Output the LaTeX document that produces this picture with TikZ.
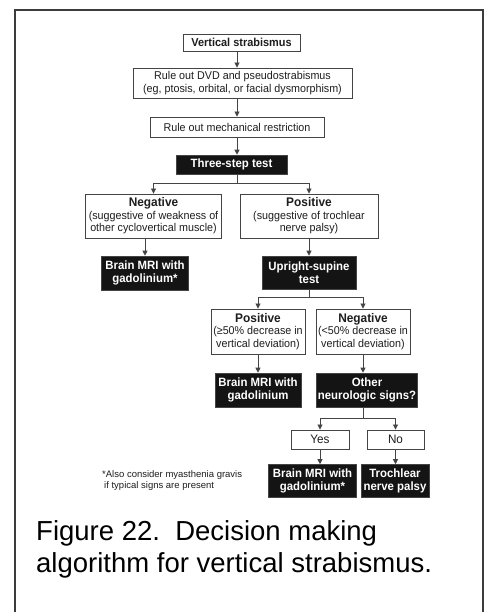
\documentclass[tikz,border=0pt]{standalone}
\usepackage{fontspec}
\setmainfont{Liberation Sans}
\newfontfamily\nsans[FakeStretch=0.95]{Liberation Sans}
\usetikzlibrary{arrows.meta}
\definecolor{lncol}{HTML}{444444}
\definecolor{txcol}{HTML}{1E1E1E}
\definecolor{framecol}{HTML}{3C3C3C}
\tikzset{
  wbox/.style={draw=lncol, line width=0.9pt, fill=white, text=txcol, align=center, inner sep=0pt,
    font=\nsans\fontsize{11.3}{12.6}\selectfont},
  bbox/.style={draw=lncol, line width=0.6pt, fill=black!92, text=white, align=center, inner sep=0pt,
    font=\nsans\bfseries\fontsize{12}{13}\selectfont},
  arr/.style={draw=lncol, line width=0.85pt, -{Triangle[length=5pt,width=5pt]}},
  conn/.style={draw=lncol, line width=0.85pt},
}
\newcommand{\hdtxt}[1]{{\bfseries\fontsize{12.5}{13}\selectfont #1}}
\begin{document}
\begin{tikzpicture}[x=1pt,y=-1pt]
\useasboundingbox (0,0) rectangle (486,612);
\fill[white] (0,0) rectangle (486,612);
% frame
\draw[framecol, line width=1.4pt] (15,616) -- (15,10) -- (483,10) -- (483,616);

% nodes
\node[wbox, minimum width=117pt, minimum height=17pt, font=\nsans\bfseries\fontsize{11.5}{12.6}\selectfont] (vs) at (241.5,42.5) {Vertical strabismus};
\node[wbox, minimum width=219pt, minimum height=30pt] (dvd) at (242.5,83) {Rule out DVD and pseudostrabismus\\(eg, ptosis, orbital, or facial dysmorphism)};
\node[wbox, minimum width=174pt, minimum height=20pt] (mech) at (237,127) {Rule out mechanical restriction};
\node[bbox, minimum width=111pt, minimum height=19pt] (three) at (231.5,164.5) {Three-step test};

\node[wbox, minimum width=136pt, minimum height=44pt] (neg) at (153.5,216) {\hdtxt{Negative}\\(suggestive of weakness of\\other cyclovertical muscle)};
\node[wbox, minimum width=138pt, minimum height=44pt] (pos) at (309,216) {\hdtxt{Positive}\\(suggestive of trochlear\\nerve palsy)};

\node[bbox, minimum width=87pt, minimum height=34pt] (mri1) at (145,273) {Brain MRI with\\gadolinium*};
\node[bbox, minimum width=94pt, minimum height=33pt] (up) at (309,272.5) {Upright-supine\\test};

\node[wbox, minimum width=94pt, minimum height=45pt] (pos2) at (258,331.5) {\hdtxt{Positive}\\(≥50\% decrease in\\vertical deviation)};
\node[wbox, minimum width=94pt, minimum height=45pt] (neg2) at (363,331.5) {\hdtxt{Negative}\\(<50\% decrease in\\vertical deviation)};

\node[bbox, minimum width=86pt, minimum height=34pt] (mri2) at (258,390) {Brain MRI with\\gadolinium};
\node[bbox, minimum width=101pt, minimum height=34pt] (other) at (367,390) {Other\\neurologic signs?};

\node[wbox, minimum width=58pt, minimum height=19pt, font=\nsans\fontsize{12.3}{13}\selectfont] (yes) at (320,439.5) {Yes};
\node[wbox, minimum width=57pt, minimum height=19pt, font=\nsans\fontsize{12.3}{13}\selectfont] (no) at (395.5,439.5) {No};

\node[bbox, minimum width=88pt, minimum height=33pt] (mri3) at (312.5,481) {Brain MRI with\\gadolinium*};
\node[bbox, minimum width=68pt, minimum height=33pt] (troch) at (395,481) {Trochlear\\nerve palsy};

\node[anchor=north west, align=left, inner sep=0pt, text=txcol, font=\fontsize{9.5}{11}\selectfont] (fn) at (102,470) {*Also consider myasthenia gravis\\\hspace*{2pt}if typical signs are present};

\node[anchor=base west, inner sep=0pt, text=black, font=\fontsize{27.5}{32}\selectfont] (cap1) at (36,540) {Figure 22.\ \ Decision making};
\node[anchor=base west, inner sep=0pt, text=black, font=\fontsize{27.5}{32}\selectfont] (cap2) at (36,572) {algorithm for vertical strabismus.};

% connectors
\coordinate (col) at (237,0);
\draw[arr] (vs.south -| col) -- (dvd.north -| col);
\draw[arr] (dvd.south -| col) -- (mech.north -| col);
\draw[arr] (mech.south -| col) -- (three.north -| col);
\coordinate (b1) at (237,183);
\draw[conn] (three.south -| b1) -- (b1);
\draw[arr] (b1) -| (neg.north);
\draw[arr] (b1) -| (pos.north);
\draw[arr] (neg.south -| mri1) -- (mri1.north);
\draw[arr] (pos.south) -- (up.north);
\coordinate (b2) at (309,297);
\draw[conn] (up.south) -- (b2);
\draw[arr] (b2) -| (pos2.north);
\draw[arr] (b2) -| (neg2.north);
\draw[arr] (pos2.south) -- (mri2.north);
\draw[arr] (neg2.south) -- (neg2.south |- other.north);
\coordinate (b3) at (363,418);
\draw[conn] (other.south -| b3) -- (b3);
\draw[arr] (b3) -| (yes.north);
\draw[arr] (b3) -| (no.north);
\draw[arr] (yes.south) -- (yes.south |- mri3.north);
\draw[arr] (no.south) -- (no.south |- troch.north);
\end{tikzpicture}
\end{document}
